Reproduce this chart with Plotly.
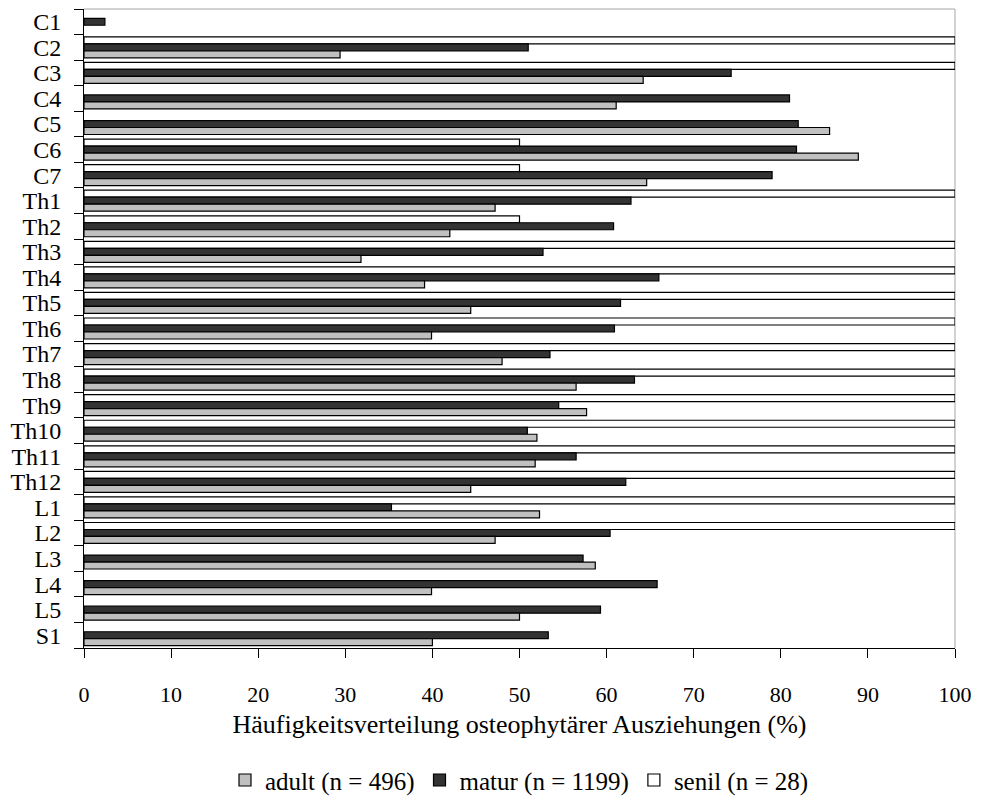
import plotly.graph_objects as go

# Vertebrae, top to bottom
segments = ["C1", "C2", "C3", "C4", "C5", "C6", "C7",
            "Th1", "Th2", "Th3", "Th4", "Th5", "Th6", "Th7", "Th8", "Th9",
            "Th10", "Th11", "Th12", "L1", "L2", "L3", "L4", "L5", "S1"]

# Frequency of osteophytic outgrowths (%) per age group (None = no bar)
adult = [None, 29.4, 64.2, 61.1, 85.6, 88.9, 64.6,
         47.2, 42.0, 31.8, 39.1, 44.4, 39.9, 48.0, 56.5, 57.7,
         52.0, 51.8, 44.4, 52.3, 47.2, 58.7, 39.9, 50.0, 40.0]
matur = [2.4, 51.0, 74.3, 81.0, 82.0, 81.8, 79.0,
         62.8, 60.8, 52.7, 66.0, 61.6, 60.9, 53.5, 63.2, 54.5,
         50.9, 56.5, 62.2, 35.3, 60.4, 57.3, 65.8, 59.3, 53.3]
senil = [None, 100, 100, None, None, 50, 50,
         100, 50, 100, 100, 100, 100, 100, 100, 100,
         100, 100, 100, 100, 100, None, None, None, None]

# Drawn top-to-bottom within each group: senil, matur, adult
series = [
    ("senil (n = 28)", senil, "#ffffff", 3),
    ("matur (n = 1199)", matur, "#333333", 2),
    ("adult (n = 496)", adult, "#c0c0c0", 1),
]

FONT = "Liberation Serif, Times New Roman, serif"

fig = go.Figure()
for name, vals, color, rank in series:
    fig.add_trace(go.Bar(
        y=segments, x=vals, name=name, orientation="h",
        marker=dict(color=color, line=dict(color="#000000", width=1.2)),
        legendrank=rank,
    ))

fig.update_layout(
    width=981, height=812,
    margin=dict(l=84, r=23, t=9, b=148),
    paper_bgcolor="white", plot_bgcolor="white",
    barmode="group", bargap=0.18, bargroupgap=0,
    font=dict(family=FONT, size=24, color="#000000"),
    showlegend=True,
    legend=dict(orientation="h", x=0.5, xanchor="center", y=-0.207, yanchor="middle",
                font=dict(size=25), itemwidth=30, tracegroupgap=0),
    xaxis=dict(
        range=[0, 100], dtick=10, tick0=0,
        showgrid=False, zeroline=False,
        showline=True, linecolor="#000000", linewidth=1,
        ticks="outside", ticklen=9, tickcolor="#000000", tickwidth=1,
        tickfont=dict(size=22), ticklabelstandoff=18,
        title=dict(text="Häufigkeitsverteilung osteophytärer Ausziehungen (%)",
                   font=dict(size=26), standoff=8),
    ),
    yaxis=dict(
        type="category", autorange="reversed",
        tickmode="array", tickvals=segments, ticktext=segments,
        showgrid=False, zeroline=False,
        showline=True, linecolor="#000000", linewidth=1,
        ticks="outside", ticklen=9, tickcolor="#000000", tickwidth=1,
        tickson="boundaries", ticklabelstandoff=17,
        tickfont=dict(size=24),
    ),
    # light grey frame on the top and right edges of the plot area
    shapes=[
        dict(type="line", xref="paper", yref="paper", x0=0, x1=1, y0=1, y1=1,
             line=dict(color="#a6a6a6", width=1), layer="below"),
        dict(type="line", xref="paper", yref="paper", x0=1, x1=1, y0=0, y1=1,
             line=dict(color="#a6a6a6", width=1), layer="below"),
    ],
)

fig.write_html("out.html")
